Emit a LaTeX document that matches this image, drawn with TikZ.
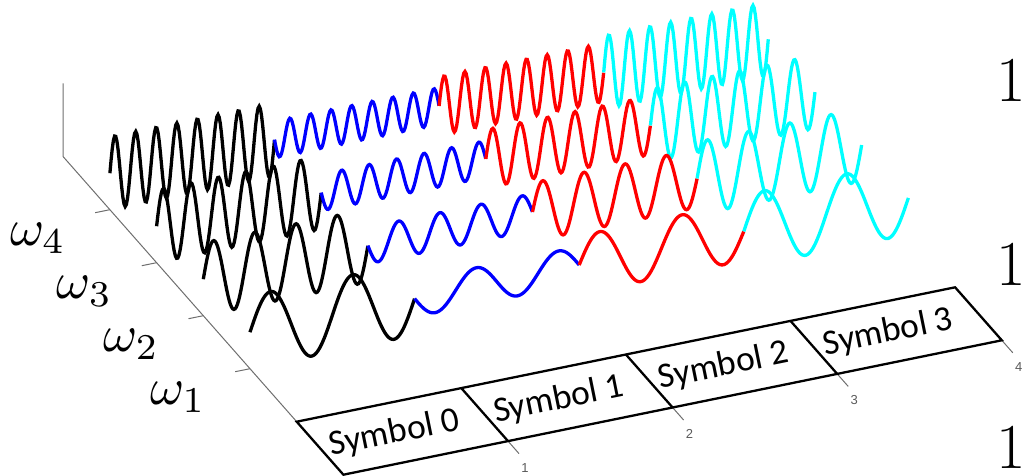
\documentclass[tikz,border=0pt]{standalone}
\usepackage{fontspec}
\usetikzlibrary{calc}
\newfontfamily\symfont{Carlito}
\newfontfamily\tickfont{Liberation Sans}
\definecolor{axisgray}{RGB}{110,110,110}
\definecolor{ticklab}{RGB}{90,90,90}
\definecolor{wcyan}{RGB}{0,255,255}
\definecolor{wblue}{RGB}{0,0,255}
\definecolor{wred}{RGB}{255,0,0}
\tikzset{
  wave/.style={line width=3.3pt},
  axisline/.style={axisgray, line width=1pt},
  stripline/.style={black, line width=2.3pt, line join=miter},
  symlabel/.style={rotate=11.5, font=\symfont\fontsize{35.5}{40}\selectfont, inner sep=0pt},
  ticklabel/.style={font=\tickfont\fontsize{13}{15}\selectfont, text=ticklab, inner sep=0pt},
  omegalabel/.style={scale=5.2, inner sep=0pt},
  bigone/.style={font=\fontsize{64}{66}\selectfont, inner sep=0pt, anchor=west}
}
\begin{document}
\begin{tikzpicture}[x=1pt, y=-1pt]
\useasboundingbox (0,0) rectangle (1025,476);
% axes
\coordinate (C) at (63.2,156.7);
\coordinate (Ztop) at (63.2,83.3);
\coordinate (T0) at (296.7,421.7);
\draw[axisline] (Ztop) -- (C) -- (T0);
\foreach \k in {1,2,3,4} {
  \coordinate (F\k) at ({296.7-46.7*\k},{421.7-53*\k});
  \draw[axisline] (F\k) -- ++(-14.8,3);
  \node[omegalabel] (om\k) at ($(F\k)+(-72,29)$) {$\omega_\k$};
}
% waves
\foreach \k in {4,3,2,1} {
  \foreach \s/\e/\a/\c in {0/1/1/black, 1/2/-0.5/wblue, 2/3/0.8/wred, 3/4/1/wcyan} {
    \draw[wave, \c] plot[domain=\s:\e, samples=141, variable=\t]
      ({296.7+164.6*\t-46.7*\k}, {421.7-33.6*\t-53*\k-36.5*(1+\a*sin(720*\k*\t))});
  }
}
% strip
\foreach \i in {0,1,2,3,4} {
  \coordinate (T\i) at ({296.7+164.6*\i},{421.7-33.6*\i});
  \coordinate (B\i) at ({343.4+164.6*\i},{474.7-33.6*\i});
}
\foreach \i in {1,2,3,4} {
  \draw[axisline] (B\i) -- ++(11,12.5);
  \node[ticklabel] (tl\i) at ($(B\i)+(17,26.5)$) {\i};
}
\fill[white] (T0) -- (T4) -- (B4) -- (B0) -- cycle;
\draw[stripline] (T0) -- (T4) -- (B4) -- (B0) -- cycle;
\foreach \i in {1,2,3} { \draw[stripline] (T\i) -- (B\i); }
\foreach \i/\j in {0/1,1/2,2/3,3/4} {
  \node[symlabel] (sym\i) at ($(T\i)!0.5!(B\j)+(-8,2)$) {Symbol \i};
}
% big ones at right edge
\node[bigone] (one1) at (996.5,80) {1};
\node[bigone] (one2) at (996.5,264) {1};
\node[bigone] (one3) at (996.5,447) {1};
\end{tikzpicture}
\end{document}
